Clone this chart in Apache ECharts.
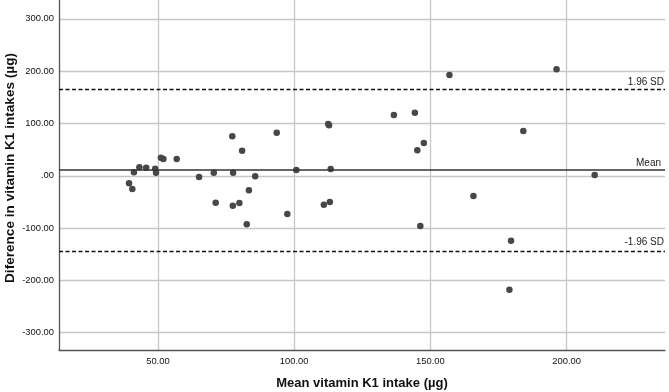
<!DOCTYPE html>
<html>
	<head>
		<meta charset="utf-8">
		<title>Bland-Altman vitamin K1</title>
	</head>
	<body style="margin:0;">
		<div id="container" style="width: 669px;height:392px;"></div>
	</body>
	<script src="https://cdn.jsdelivr.net/npm/echarts@6/dist/echarts.min.js"></script>
	<script type="text/javascript">
		'use strict'
		// mean of the two methods (x) and their difference (y)
		var meanIntake = [39.4, 40.6, 41.2, 43.2, 45.7, 49.0, 49.3, 51.1, 52.0, 56.9,
			65.1, 70.5, 77.3, 71.2, 77.6, 77.5, 79.9, 80.9, 83.4, 85.7,
			82.6, 93.6, 97.5, 100.8, 110.9, 113.1, 112.5, 112.8, 113.4, 157.0,
			196.3, 136.6, 144.3, 184.1, 147.6, 145.2, 165.8, 146.3, 179.6, 179.0,
			210.3];
		var diffIntake = [-14.3, -25.2, 6.7, 16.3, 15.5, 13.6, 5.9, 34.6, 32.1, 32.1,
			-2.3, 5.9, 75.5, -51.4, 5.9, -57.2, -52.0, 48.0, -27.7, -1.0,
			-92.7, 82.4, -73.0, 11.1, -55.3, -50.1, 99.0, 96.6, 13.0, 192.7,
			203.6, 116.3, 120.7, 85.7, 62.7, 48.8, -38.6, -96.0, -124.1, -217.8,
			1.5];
		var meanDiff = 11.1;
		var upperLimit = 166.0;
		var lowerLimit = -143.8;
		var limitNames = ['1.96 SD', 'Mean', '-1.96 SD'];

		var points = [];
		for (var i = 0; i < meanIntake.length; i++) {
			points.push([meanIntake[i], diffIntake[i]]);
		}

		function fmt(v) {
			return v.toFixed(2).replace(/^0\./, '.').replace(/^-0\./, '-.');
		}

		var myCharts = echarts.init(document.getElementById('container'));
		var option = {
			animation: false,
			backgroundColor: '#ffffff',
			grid: {
				left: 59,
				right: 4,
				top: 0,
				bottom: 42,
				outerBoundsMode: 'none',
				containLabel: false
			},
			xAxis: {
				type: 'value',
				min: 13.7,
				max: 236.1,
				name: 'Mean vitamin K1 intake (µg)',
				nameLocation: 'middle',
				nameGap: 27,
				nameMoveOverlap: false,
				nameTextStyle: {
					fontFamily: 'Liberation Sans',
					fontWeight: 'bold',
					fontSize: 13,
					color: '#111'
				},
				axisLine: { onZero: false, lineStyle: { color: '#555', width: 1.3 } },
				axisTick: { show: false },
				axisLabel: {
					formatter: fmt,
					showMinLabel: false,
					showMaxLabel: false,
					margin: 7,
					fontFamily: 'Liberation Sans',
					fontSize: 9.4,
					color: '#111'
				},
				splitLine: {
					show: true,
					showMinLine: false,
					showMaxLine: false,
					lineStyle: { color: '#c6c6c6', width: 1.3 }
				}
			},
			yAxis: {
				type: 'value',
				min: -333,
				max: 336,
				name: 'Diference in vitamin K1 intakes (µg)',
				nameLocation: 'middle',
				nameGap: 42,
				nameMoveOverlap: false,
				nameTextStyle: {
					fontFamily: 'Liberation Sans',
					fontWeight: 'bold',
					fontSize: 13.6,
					color: '#111',
					padding: [0, 0, 0, 14]
				},
				axisLine: { show: true, onZero: false, lineStyle: { color: '#555', width: 1.3 } },
				axisTick: { show: false },
				axisLabel: {
					formatter: fmt,
					showMinLabel: false,
					showMaxLabel: false,
					margin: 5,
					fontFamily: 'Liberation Sans',
					fontSize: 9.4,
					color: '#111'
				},
				splitLine: {
					show: true,
					showMinLine: false,
					showMaxLine: false,
					lineStyle: { color: '#c6c6c6', width: 1.3 }
				}
			},
			series: [
				{
					type: 'scatter',
					data: points,
					symbolSize: 6.5,
					itemStyle: { color: '#474747', opacity: 1 },
					markLine: {
						silent: true,
						symbol: ['none', 'none'],
						label: {
							position: 'insideEndTop',
							fontFamily: 'Liberation Sans',
							fontSize: 10,
							color: '#222'
						},
						data: [
							{
								yAxis: upperLimit,
								label: { formatter: limitNames[0], offset: [4, 3] },
								lineStyle: { color: '#111', type: [4, 2.5], width: 1.3 }
							},
							{
								yAxis: meanDiff,
								label: { formatter: limitNames[1], offset: [1, 3] },
								lineStyle: { color: '#333', type: 'solid', width: 1.5 }
							},
							{
								yAxis: lowerLimit,
								label: { formatter: limitNames[2], offset: [4, 1] },
								lineStyle: { color: '#111', type: [4, 2.5], width: 1.3 }
							}
						]
					}
				}
			]
		};
		myCharts.setOption(option);
	</script>
</html>
